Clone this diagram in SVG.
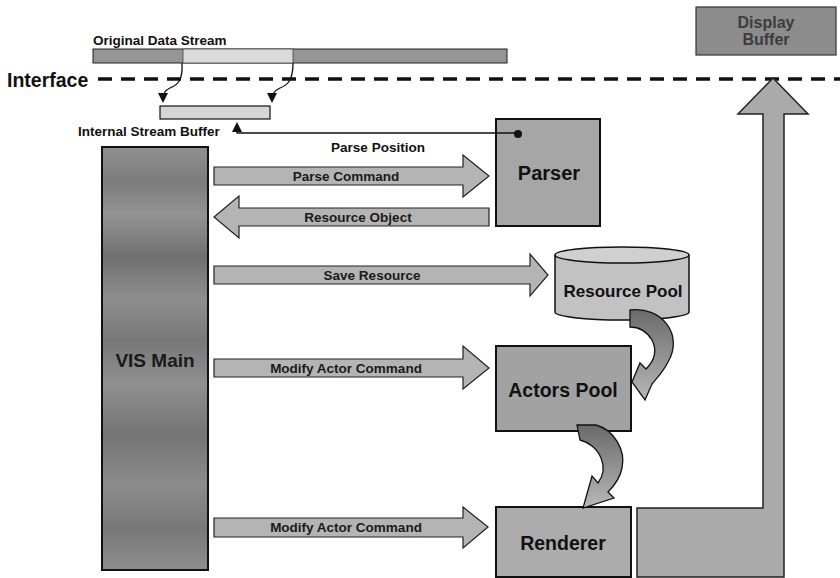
<svg xmlns="http://www.w3.org/2000/svg" width="840" height="578" viewBox="0 0 840 578">
  <style>
    text { font-family: "Liberation Sans", Arial, sans-serif; font-weight: bold; fill: #111; }
    .box { stroke: #111; stroke-width: 2; }
    .blk { stroke: #222; stroke-width: 1.2; fill: #b4b4b4; }
    .lbl { font-size: 13.5px; text-anchor: middle; fill: #1a1a1a; }
    .big { font-size: 19.5px; text-anchor: middle; }
    .thin { fill: none; stroke: #111; stroke-width: 1.3; }
  </style>
  <defs>
    <marker id="tri" viewBox="0 0 10 10" refX="5" refY="5" markerWidth="10" markerHeight="10" orient="auto" markerUnits="userSpaceOnUse">
      <path d="M0,0 L10,5 L0,10 Z" fill="#111"/>
    </marker>
    <linearGradient id="visBands" x1="0" y1="0" x2="0" y2="1">
      <stop offset="0" stop-color="#909090"/>
      <stop offset="0.08" stop-color="#7c7c7c"/>
      <stop offset="0.16" stop-color="#939393"/>
      <stop offset="0.26" stop-color="#707070"/>
      <stop offset="0.36" stop-color="#8e8e8e"/>
      <stop offset="0.46" stop-color="#787878"/>
      <stop offset="0.56" stop-color="#909090"/>
      <stop offset="0.68" stop-color="#747474"/>
      <stop offset="0.8" stop-color="#8c8c8c"/>
      <stop offset="0.9" stop-color="#787878"/>
      <stop offset="1" stop-color="#8e8e8e"/>
    </linearGradient>
    <linearGradient id="curl1" x1="0" y1="0" x2="0" y2="1">
      <stop offset="0" stop-color="#6a6a6a"/>
      <stop offset="1" stop-color="#b8b8b8"/>
    </linearGradient>
  </defs>

  <!-- interface boundary -->
  <text x="7" y="87" style="font-size:19.5px">Interface</text>
  <line x1="98" y1="79" x2="840" y2="79" stroke="#111" stroke-width="3.5" stroke-dasharray="14 9"/>

  <!-- original data stream -->
  <g id="data-stream">
    <text x="93" y="45" style="font-size:13.5px">Original Data Stream</text>
    <rect x="93" y="49" width="414" height="14" fill="#959595" stroke="#222" stroke-width="1"/>
    <rect x="183" y="49" width="110" height="14" fill="#dadada" stroke="#444" stroke-width="0.8"/>
  </g>

  <!-- internal stream buffer -->
  <g id="stream-buffer">
    <rect x="160" y="106" width="110" height="13" fill="#d6d6d6" stroke="#111" stroke-width="1.2"/>
    <text x="78" y="136" style="font-size:13.5px">Internal Stream Buffer</text>
  </g>

  <!-- display buffer -->
  <g id="display-buffer">
    <rect x="696" y="7" width="140" height="48" fill="#8c8c8c" stroke="#333" stroke-width="1.2"/>
    <text x="766" y="28" style="font-size:16px;text-anchor:middle;fill:#3c3c3c">Display</text>
    <text x="766" y="45" style="font-size:16px;text-anchor:middle;fill:#3c3c3c">Buffer</text>
  </g>

  <!-- VIS main -->
  <g id="vis-main">
    <rect x="102" y="147" width="106" height="423" fill="url(#visBands)" class="box"/>
    <text x="155" y="367" class="big" style="font-size:19px;fill:#1a1a1a">VIS Main</text>
  </g>

  <!-- parser -->
  <g id="parser">
    <rect x="496" y="119" width="104" height="107" fill="#a6a6a6" class="box"/>
    <text x="549" y="180" class="big" style="font-size:20px">Parser</text>
  </g>

  <!-- resource pool -->
  <g id="resource-pool">
    <path d="M555,255 L555,312 A67,8 0 0 0 689,312 L689,255" fill="#c2c2c2" stroke="#111" stroke-width="1.5"/>
    <ellipse cx="622" cy="255" rx="67" ry="8" fill="#d0d0d0" stroke="#111" stroke-width="1.5"/>
    <text x="623" y="297" class="big" style="font-size:17px">Resource Pool</text>
  </g>

  <!-- actors pool -->
  <g id="actors-pool">
    <rect x="496" y="346" width="135" height="85" fill="#a2a2a2" class="box"/>
    <text x="563" y="397" class="big">Actors Pool</text>
  </g>

  <!-- renderer -->
  <g id="renderer">
    <rect x="496" y="507" width="135" height="70" fill="#acacac" class="box"/>
    <text x="563" y="550" class="big">Renderer</text>
  </g>

  <!-- connectors -->
  <g id="connectors">
    <!-- stream slice copied into the internal buffer -->
    <path class="thin" d="M182,63 C183,80 178,85 170,88 C164,91 163,95 163,98" marker-end="url(#tri)"/>
    <path class="thin" d="M293,63 C293,80 288,85 280,88 C274,91 272,95 272,98" marker-end="url(#tri)"/>

    <!-- parse position feedback -->
    <polyline class="thin" points="518,133 237,133 237,127" marker-end="url(#tri)"/>
    <circle cx="518" cy="134" r="4" fill="#111"/>
    <text x="378" y="152" style="font-size:13.5px;text-anchor:middle">Parse Position</text>

    <!-- Parse Command -->
    <polygon class="blk" points="214,167 463,167 463,155 489,176 463,197 463,185 214,185"/>
    <text x="346" y="181" class="lbl">Parse Command</text>

    <!-- Resource Object -->
    <polygon class="blk" points="489,208 239,208 239,196 214,217 239,238 239,226 489,226"/>
    <text x="358" y="222" class="lbl">Resource Object</text>

    <!-- Save Resource -->
    <polygon class="blk" points="214,266 530,266 530,254 548,275 530,296 530,284 214,284"/>
    <text x="372" y="280" class="lbl">Save Resource</text>

    <!-- Modify Actor Command (to actors pool) -->
    <polygon class="blk" points="214,359 463,359 463,346 489,368 463,389 463,377 214,377"/>
    <text x="346" y="373" class="lbl">Modify Actor Command</text>

    <!-- Modify Actor Command (to renderer) -->
    <polygon class="blk" points="214,518 463,518 463,507 488,527 463,548 463,537 214,537"/>
    <text x="346" y="532" class="lbl">Modify Actor Command</text>

    <!-- resource pool to actors pool -->
    <path d="M630,310 C662,306 684,335 668,362 C663,372 657,378 652,384 L645,400 L632,382 L640,363 L646,369 C655,360 657,350 652,340 C647,332 640,327 630,327 Z" fill="url(#curl1)" stroke="#111" stroke-width="1.3"/>

    <!-- actors pool to renderer -->
    <path d="M577,425 L596,425 C614,430 626,450 622,468 C620,478 614,486 608,492 L614,498 L583,508 L592,476 L598,483 C603,476 605,467 601,458 C597,448 588,442 580,440 Z" fill="url(#curl1)" stroke="#111" stroke-width="1.3"/>

    <!-- renderer output up to display buffer -->
    <polygon points="773,78 808,114 784,114 784,577 637,577 637,508 763,508 763,114 738,114" fill="#aaaaaa" stroke="#222" stroke-width="1.5"/>
  </g>
</svg>
